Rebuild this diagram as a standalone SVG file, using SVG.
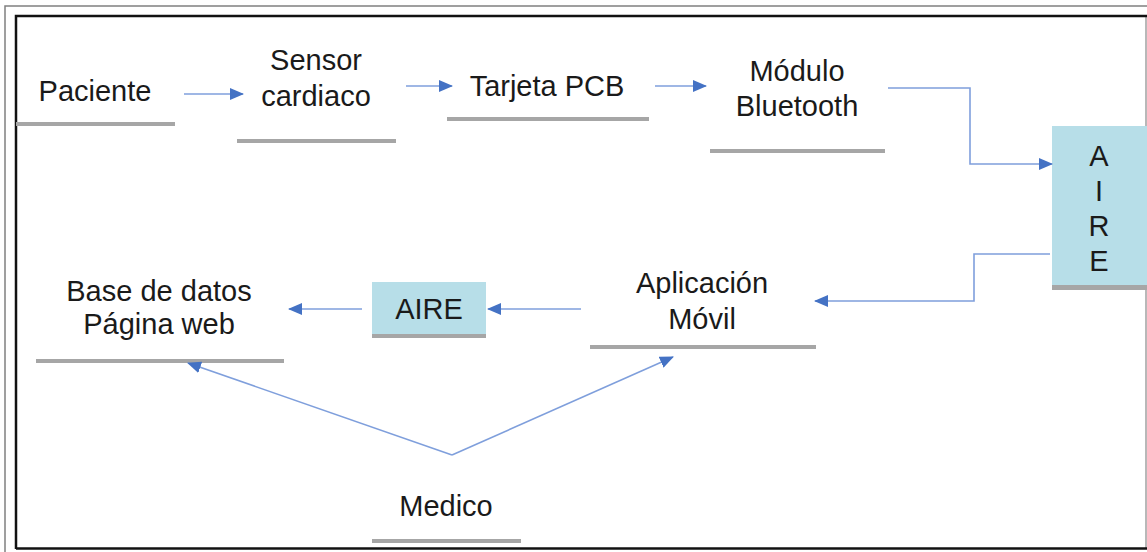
<svg xmlns="http://www.w3.org/2000/svg" width="1147" height="552" viewBox="0 0 1147 552">
  <style>
    .t { font-family: "Liberation Sans", Arial, sans-serif; font-size: 29px; fill: #1a1a1a; text-anchor: middle; }
    .bar { fill: #a6a6a6; }
    .box { fill: #b7dee8; }
    .c { fill: none; stroke: #7f9fdc; stroke-width: 1.6; }
  </style>
  <defs>
    <marker id="ah" viewBox="0 0 14 12" refX="13" refY="6" markerWidth="14" markerHeight="12" markerUnits="userSpaceOnUse" orient="auto">
      <path d="M0,0 L14,6 L0,12 Z" fill="#4472c4"/>
    </marker>
  </defs>

  <rect width="1147" height="552" fill="#ffffff"/>

  <!-- outer frame -->
  <g id="frame">
    <path d="M5,552 V6 H1147" fill="none" stroke="#808080" stroke-width="1.5"/>
    <path d="M1146,15 V548" fill="none" stroke="#a0a0a0" stroke-width="1.5"/>
    <path d="M16,549 V16 H1147" fill="none" stroke="#111111" stroke-width="2.5"/>
    <path d="M16,548.5 H1147" fill="none" stroke="#111111" stroke-width="2.5"/>
  </g>

  <g id="paciente">
    <text class="t" x="95" y="101">Paciente</text>
    <rect class="bar" x="16" y="122" width="159" height="4"/>
  </g>

  <g id="sensor">
    <text class="t" x="316" y="70">Sensor</text>
    <text class="t" x="316" y="106">cardiaco</text>
    <rect class="bar" x="237" y="139" width="159" height="4"/>
  </g>

  <g id="tarjeta">
    <text class="t" x="547" y="96">Tarjeta PCB</text>
    <rect class="bar" x="447" y="117" width="202" height="4"/>
  </g>

  <g id="bluetooth">
    <text class="t" x="797" y="81">Módulo</text>
    <text class="t" x="797" y="116">Bluetooth</text>
    <rect class="bar" x="710" y="149" width="175" height="4"/>
  </g>

  <g id="aire-v">
    <rect class="box" x="1052" y="126" width="95" height="159"/>
    <rect class="bar" x="1052" y="285" width="95" height="5"/>
    <text class="t" x="1099" y="166">A</text>
    <text class="t" x="1099" y="201">I</text>
    <text class="t" x="1099" y="236">R</text>
    <text class="t" x="1099" y="271">E</text>
  </g>

  <g id="app">
    <text class="t" x="702" y="293">Aplicación</text>
    <text class="t" x="702" y="329">Móvil</text>
    <rect class="bar" x="590" y="345" width="226" height="4"/>
  </g>

  <g id="aire-h">
    <rect class="box" x="372" y="282" width="114" height="52"/>
    <rect class="bar" x="372" y="334" width="114" height="4"/>
    <text class="t" x="429" y="319">AIRE</text>
  </g>

  <g id="base">
    <text class="t" x="159" y="301">Base de datos</text>
    <text class="t" x="159" y="334">Página web</text>
    <rect class="bar" x="36" y="359" width="248" height="4"/>
  </g>

  <g id="medico">
    <text class="t" x="446" y="516">Medico</text>
    <rect class="bar" x="372" y="539" width="149" height="4"/>
  </g>

  <g id="connectors">
    <path class="c" d="M184,94 H243" marker-end="url(#ah)"/>
    <path class="c" d="M406,86 H452" marker-end="url(#ah)"/>
    <path class="c" d="M655,86 H706" marker-end="url(#ah)"/>
    <path class="c" d="M888,88 H970 V164 H1052" marker-end="url(#ah)"/>
    <path class="c" d="M1050,254 H974 V301 H815" marker-end="url(#ah)"/>
    <path class="c" d="M581,309 H488" marker-end="url(#ah)"/>
    <path class="c" d="M362,309 H289" marker-end="url(#ah)"/>
    <path class="c" d="M452,455 L188,363" marker-end="url(#ah)"/>
    <path class="c" d="M452,455 L673,357" marker-end="url(#ah)"/>
  </g>
</svg>
